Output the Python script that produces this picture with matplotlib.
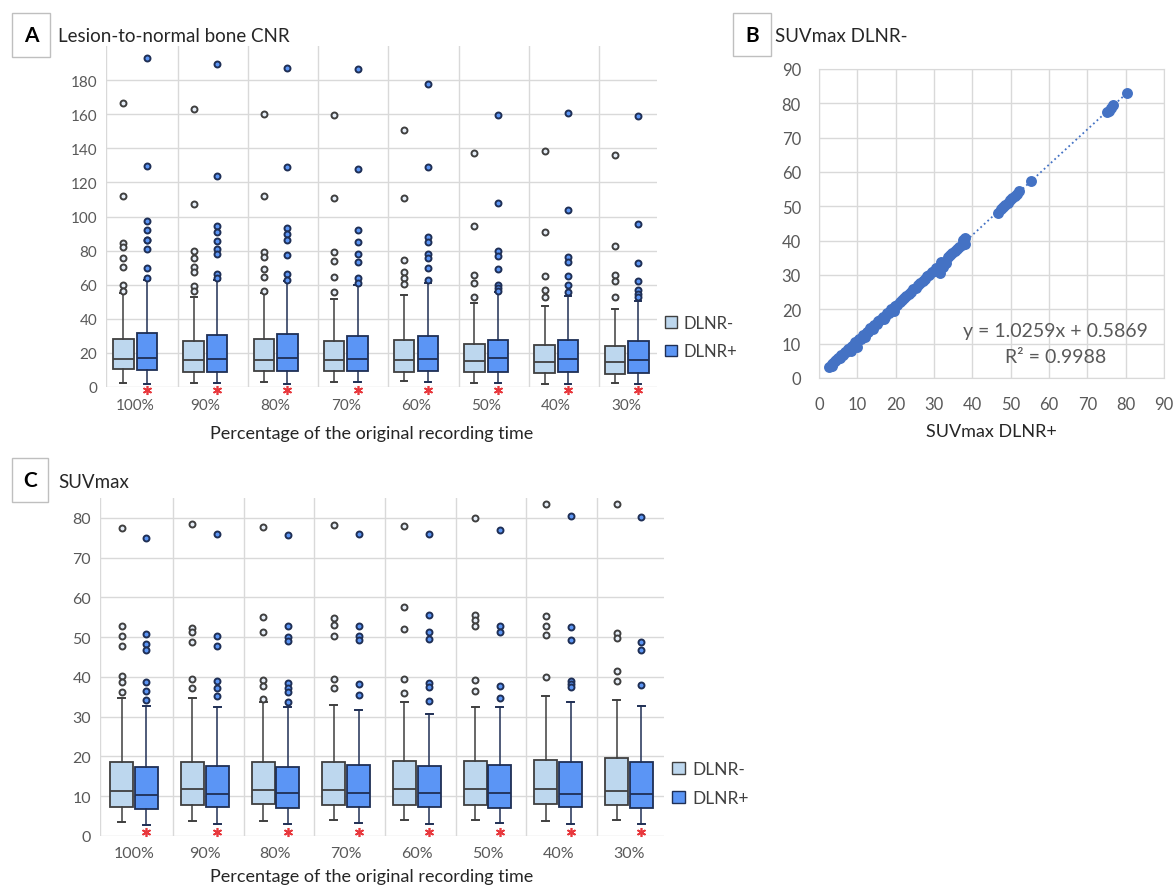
import matplotlib
matplotlib.use("Agg")
import matplotlib.pyplot as plt
from matplotlib.patches import Patch, Rectangle
import numpy as np

plt.rcParams["font.family"] = ["Lato", "DejaVu Sans"]

groups = ["100%", "90%", "80%", "70%", "60%", "50%", "40%", "30%"]

# Panel A - lesion-to-normal bone CNR
cnr_neg_q1 = [10.3, 8.8, 9.6, 9.2, 8.8, 8.8, 8.4, 7.8]
cnr_neg_med = [16.6, 15.6, 16.0, 16.0, 15.6, 15.4, 14.8, 14.6]
cnr_neg_q3 = [28.3, 26.9, 28.1, 26.9, 27.3, 25.4, 24.8, 23.8]
cnr_neg_lo = [2.5, 2.5, 2.9, 3.1, 3.3, 2.5, 2.0, 2.5]
cnr_neg_hi = [55.0, 53.0, 55.0, 51.7, 54.0, 49.1, 47.4, 45.8]
cnr_neg_out = [
    [166.3, 112.3, 84.4, 81.9, 75.7, 70.2, 59.9, 56.4],
    [163.2, 107.6, 80.0, 75.5, 70.2, 67.7, 59.0, 56.4],
    [160.3, 112.3, 79.0, 76.4, 69.2, 64.4, 56.4],
    [159.5, 110.6, 79.0, 74.1, 64.4, 55.6],
    [150.7, 110.6, 74.5, 67.7, 63.8, 60.3],
    [137.5, 94.2, 65.7, 60.8, 53.0],
    [138.5, 90.7, 64.9, 56.9, 52.5],
    [135.9, 82.5, 65.9, 62.0, 52.5],
]
cnr_pos_q1 = [9.9, 8.8, 9.6, 9.4, 9.4, 8.8, 8.8, 8.2]
cnr_pos_med = [17.2, 16.6, 17.2, 16.6, 16.6, 16.8, 16.6, 15.8]
cnr_pos_q3 = [31.8, 30.6, 31.0, 29.8, 30.2, 27.7, 27.3, 26.7]
cnr_pos_lo = [2.0, 2.5, 2.0, 2.9, 2.9, 2.1, 2.0, 2.0]
cnr_pos_hi = [63.0, 62.5, 62.0, 60.0, 60.8, 56.0, 53.6, 50.7]
cnr_pos_out = [
    [192.9, 129.7, 97.3, 91.8, 86.4, 86.0, 81.1, 69.6, 63.8],
    [189.5, 123.8, 94.6, 90.7, 85.8, 80.9, 78.0, 66.3, 63.8],
    [187.0, 129.3, 93.0, 89.5, 86.4, 77.2, 66.1, 62.8],
    [186.6, 128.1, 91.8, 84.8, 78.0, 73.5, 63.8, 61.0],
    [177.6, 128.9, 87.8, 84.8, 78.0, 75.5, 69.6, 63.0],
    [159.5, 108.2, 80.0, 76.6, 69.2, 59.9, 57.9, 56.4],
    [160.9, 103.9, 76.0, 73.1, 64.9, 59.9, 56.0],
    [158.7, 95.4, 72.9, 62.4, 56.6, 54.6, 53.0],
]

# Panel C - SUVmax
suv_neg_q1 = [7.4, 7.9, 8.0, 7.9, 7.9, 7.9, 8.1, 7.9]
suv_neg_med = [11.3, 11.7, 11.5, 11.5, 11.7, 11.7, 11.8, 11.4]
suv_neg_q3 = [18.5, 18.7, 18.5, 18.6, 18.8, 18.8, 19.1, 19.7]
suv_neg_lo = [3.5, 3.7, 3.8, 3.9, 3.9, 3.9, 3.8, 3.9]
suv_neg_hi = [34.6, 34.8, 33.6, 33.0, 33.6, 32.4, 35.3, 34.3]
suv_neg_out = [
    [77.5, 52.8, 50.4, 47.7, 40.2, 38.8, 36.1],
    [78.4, 52.4, 51.3, 48.9, 39.5, 37.3],
    [77.7, 55.0, 51.3, 39.3, 37.6, 34.5],
    [78.3, 54.9, 53.0, 50.3, 39.6, 37.3],
    [78.0, 57.6, 52.0, 39.4, 36.0],
    [80.0, 55.5, 54.2, 52.8, 39.2, 36.4],
    [83.6, 55.4, 52.8, 50.5, 40.1],
    [83.4, 51.1, 49.7, 41.4, 39.0],
]
suv_pos_q1 = [6.7, 7.2, 7.1, 7.4, 7.4, 7.1, 7.4, 7.1]
suv_pos_med = [10.4, 10.6, 10.7, 10.8, 10.8, 10.8, 10.6, 10.6]
suv_pos_q3 = [17.4, 17.5, 17.4, 17.8, 17.6, 17.9, 18.7, 18.6]
suv_pos_lo = [2.8, 2.9, 2.9, 3.2, 3.1, 3.2, 3.1, 2.9]
suv_pos_hi = [32.8, 32.5, 32.4, 31.8, 30.7, 32.5, 33.6, 32.8]
suv_pos_out = [
    [75.0, 50.8, 48.2, 46.8, 38.7, 36.4, 34.3],
    [76.0, 50.3, 47.7, 38.9, 37.3, 35.3],
    [75.7, 52.8, 50.1, 49.0, 38.4, 37.1, 36.1, 33.8],
    [76.0, 52.7, 50.4, 49.3, 38.2, 35.5],
    [76.0, 55.6, 51.4, 49.5, 38.4, 37.4, 34.0],
    [77.0, 52.7, 51.4, 37.7, 34.6],
    [80.5, 52.6, 49.4, 39.0, 38.2, 37.4],
    [80.3, 48.9, 46.8, 37.9],
]

# Panel B - SUVmax DLNR+ (x) vs DLNR- (y)
suv_x = [2.6, 3.0, 3.3, 3.7, 4.1, 4.5, 4.9, 5.3, 5.8, 6.2, 6.7, 7.1, 7.6, 8.0,
         8.5, 9.0, 9.4, 9.9, 10.4, 10.9, 11.4, 11.9, 12.4, 12.9, 13.4, 13.9,
         14.4, 15.0, 15.5, 16.0, 16.6, 17.1, 17.7, 18.2, 18.8, 19.3, 19.9,
         20.4, 21.0, 21.6, 22.2, 22.8, 23.4, 24.0, 24.6, 25.2, 25.8, 26.4,
         27.0, 27.6, 28.2, 28.8, 29.4, 30.0, 30.6, 31.2, 31.8, 32.4, 33.0,
         33.6, 34.2, 34.8, 35.4, 36.0, 36.6, 37.2, 37.5, 37.8, 38.0, 38.2,
         46.8, 47.4, 48.0, 48.6, 49.2, 49.8, 50.4, 51.0, 51.6, 52.2,
         55.3, 75.0, 75.6, 76.2, 76.8, 80.3,
         3.4, 5.6, 8.3, 10.0, 12.0, 14.2, 16.9, 19.6, 31.5, 32.7]
suv_y = [3.3, 3.6, 4.0, 4.3, 4.9, 5.1, 5.7, 5.9, 6.6, 6.8, 7.6, 7.7, 8.5, 8.6,
         9.4, 9.6, 10.4, 10.5, 11.4, 11.5, 12.4, 12.5, 13.5, 13.4, 14.5, 14.6,
         15.5, 15.6, 16.6, 16.8, 17.8, 17.9, 18.9, 19.0, 20.0, 20.2, 21.1,
         21.4, 22.2, 22.6, 23.4, 23.9, 24.6, 25.1, 25.9, 26.3, 27.1, 27.6,
         28.3, 28.8, 29.6, 30.0, 30.8, 31.3, 32.1, 31.5, 33.8, 32.2, 33.6,
         35.1, 35.7, 36.3, 37.0, 37.5, 38.3, 38.8, 40.1, 39.6, 39.0, 40.8,
         48.2, 49.2, 49.8, 50.4, 51.1, 51.7, 52.3, 52.9, 53.5, 54.6,
         57.3, 77.5, 77.8, 78.5, 79.4, 83.0,
         3.6, 5.7, 8.0, 9.1, 11.8, 14.2, 17.1, 19.5, 30.6, 33.5]
fit_slope = 1.0259
fit_intercept = 0.5869
fit_r2 = 0.9988

W, H = 1175, 887
grid_c = "#D9D9D9"
tick_c = "#595959"
light_face = "#BDD7EE"
light_edge = "#3F3F3F"
dark_face = "#5B95F5"
dark_edge = "#1F2F55"
pt_blue = "#4472C4"


def fx(x):
    return x / W


def fy(y):
    return 1 - y / H


def draw_boxes(ax, q1, med, q3, lo, hi, out, offset, width, face, edge, flier_face):
    stats = []
    for a, m, b, l, h, f in zip(q1, med, q3, lo, hi, out):
        stats.append(dict(q1=a, med=m, q3=b, whislo=l, whishi=h, fliers=f))
    pos = np.arange(len(stats)) + offset
    ax.bxp(stats, positions=pos, widths=width, patch_artist=True,
           manage_ticks=False, capwidths=width * 0.3,
           boxprops=dict(facecolor=face, edgecolor=edge, linewidth=1.3),
           medianprops=dict(color=edge, linewidth=1.3),
           whiskerprops=dict(color=edge, linewidth=1.1),
           capprops=dict(color=edge, linewidth=1.4),
           flierprops=dict(marker="o", markersize=4.3, markerfacecolor=flier_face,
                           markeredgecolor=edge, markeredgewidth=1.4))


def setup_box_panel(ax, ymax, step, xlo, xhi, sep_off, xpad, ypad, fs):
    ax.set_xlim(xlo, xhi)
    ax.set_ylim(0, ymax)
    ax.set_yticks(np.arange(0, ymax, step))
    ax.yaxis.grid(True, color=grid_c, lw=1)
    ax.set_axisbelow(True)
    for s in ax.spines.values():
        s.set_visible(False)
    for x in [xlo] + [i + sep_off for i in range(7)]:
        ax.axvline(x, color=grid_c, lw=1, zorder=0)
    ax.set_xticks(range(len(groups)))
    ax.set_xticklabels(groups)
    ax.tick_params(axis="x", length=0, pad=xpad, labelcolor=tick_c, labelsize=fs)
    ax.tick_params(axis="y", length=0, pad=ypad, labelcolor=tick_c, labelsize=fs)


def star_marks(ax, offset, y):
    ax.plot(np.arange(len(groups)) + offset, [y] * len(groups), linestyle="none",
            marker=(6, 2, 0), markersize=6.5, markeredgewidth=1.2,
            color="#E8383D", clip_on=False, zorder=5)


def panel_label(fig, letter, x0, y0, x1, y1, title, tx):
    fig.add_artist(Rectangle((fx(x0), fy(y1)), fx(x1 - x0), (y1 - y0) / H,
                             transform=fig.transFigure, fill=False,
                             edgecolor="#BFBFBF", lw=1))
    fig.text(fx((x0 + x1) / 2), fy((y0 + y1) / 2), letter, ha="center", va="center",
             fontsize=15, fontweight="bold", color="black")
    fig.text(fx(tx), fy((y0 + y1) / 2 + 1), title, ha="left", va="center",
             fontsize=13.5, color="#262626")


fig = plt.figure(figsize=(W / 100, H / 100), dpi=100)

handles = [Patch(facecolor=light_face, edgecolor=light_edge),
           Patch(facecolor=dark_face, edgecolor=dark_edge)]

# ---- Panel A
axA = fig.add_axes([fx(105.5), fy(388), fx(551.1), 341 / H])
setup_box_panel(axA, 200, 20, -0.42, 7.43, 0.61, 8, 6, 11)
draw_boxes(axA, cnr_neg_q1, cnr_neg_med, cnr_neg_q3, cnr_neg_lo, cnr_neg_hi,
           cnr_neg_out, -0.165, 0.29, light_face, light_edge, "#E6EEF8")
draw_boxes(axA, cnr_pos_q1, cnr_pos_med, cnr_pos_q3, cnr_pos_lo, cnr_pos_hi,
           cnr_pos_out, 0.17, 0.29, dark_face, dark_edge, dark_face)
star_marks(axA, 0.17, -1.5)
fig.text(fx(372), fy(434), "Percentage of the original recording time",
         ha="center", va="center", fontsize=13, color="#262626")
fig.legend(handles, ["DLNR-", "DLNR+"], loc="center left",
           bbox_to_anchor=(fx(665), fy(338)), frameon=False, fontsize=12,
           handlelength=0.7, handleheight=0.7, handletextpad=0.4,
           labelspacing=0.75, borderpad=0, borderaxespad=0, labelcolor="#404040")
panel_label(fig, "A", 12, 14, 50, 58, "Lesion-to-normal bone CNR", 58)

# ---- Panel C
axC = fig.add_axes([fx(100.1), fy(837), fx(564.2), 338 / H])
setup_box_panel(axC, 85, 10, -0.48, 7.5, 0.55, 7, 6.5, 11.5)
draw_boxes(axC, suv_neg_q1, suv_neg_med, suv_neg_q3, suv_neg_lo, suv_neg_hi,
           suv_neg_out, -0.175, 0.325, light_face, light_edge, "#E6EEF8")
draw_boxes(axC, suv_pos_q1, suv_pos_med, suv_pos_q3, suv_pos_lo, suv_pos_hi,
           suv_pos_out, 0.175, 0.325, dark_face, dark_edge, dark_face)
star_marks(axC, 0.175, 1.0)
fig.text(fx(372), fy(877), "Percentage of the original recording time",
         ha="center", va="center", fontsize=13, color="#262626")
fig.legend(handles, ["DLNR-", "DLNR+"], loc="center left",
           bbox_to_anchor=(fx(672), fy(784.5)), frameon=False, fontsize=12.5,
           handlelength=0.75, handleheight=0.75, handletextpad=0.4,
           labelspacing=0.75, borderpad=0, borderaxespad=0, labelcolor="#404040")
panel_label(fig, "C", 12, 459, 48, 503, "SUVmax", 58)

# ---- Panel B
axB = fig.add_axes([fx(819), fy(379), fx(345), 309 / H])
axB.set_xlim(0, 90)
axB.set_ylim(0, 90)
axB.set_xticks(np.arange(0, 91, 10))
axB.set_yticks(np.arange(0, 91, 10))
axB.grid(True, color=grid_c, lw=1)
axB.set_axisbelow(True)
for s in axB.spines.values():
    s.set_color(grid_c)
axB.tick_params(length=0, pad=13, labelcolor=tick_c, labelsize=12)
axB.scatter(suv_x, suv_y, s=62, color=pt_blue, linewidths=0, zorder=3)
fit_x = np.array([min(suv_x), max(suv_x)])
axB.plot(fit_x, fit_slope * fit_x + fit_intercept, linestyle=":", lw=1.3,
         color=pt_blue, zorder=2)
axB.text(61.8, 13.7, f"y = {fit_slope}x + {fit_intercept}", ha="center", va="center",
         fontsize=14, color=tick_c)
axB.text(61.8, 6.2, f"R² = {fit_r2}", ha="center", va="center",
         fontsize=14, color=tick_c)
fig.text(fx(991), fy(432), "SUVmax DLNR+", ha="center", va="center",
         fontsize=13, color="#262626")
panel_label(fig, "B", 733, 14, 771, 57, "SUVmax DLNR-", 775)

fig.savefig("out.png", dpi=100, facecolor="white")
